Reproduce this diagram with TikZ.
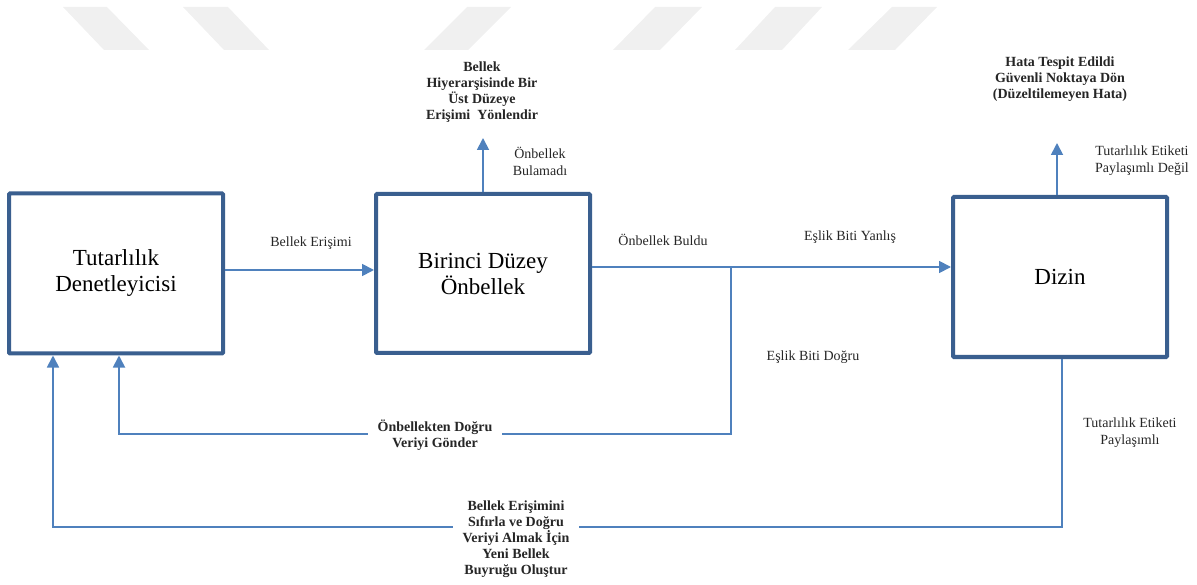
\documentclass[tikz,border=0pt]{standalone}
\usepackage{fontspec}
\setmainfont{Liberation Serif}
\usetikzlibrary{arrows.meta}
\definecolor{boxblue}{RGB}{58,95,143}
\definecolor{linkblue}{RGB}{79,129,189}
\definecolor{stripe}{RGB}{240,240,240}
\tikzset{
  block/.style={draw=boxblue, line width=4pt, rounded corners=1pt, fill=white,
    minimum width=214pt, minimum height=160pt, align=center,
    font=\fontsize{23}{26}\selectfont},
  link/.style={draw=linkblue, line width=1.8pt},
  arr/.style={link, -{Triangle[width=12pt,length=12pt]}},
  lbl/.style={align=center, font=\fontsize{14}{17}\selectfont, text=black!85},
  blbl/.style={align=center, font=\fontsize{14}{16}\selectfont\bfseries, text=black!85},
  gap/.style={blbl, fill=white, inner xsep=10pt, inner ysep=1pt},
  band/.style={fill=stripe, draw=none}
}
\begin{document}
\begin{tikzpicture}[x=1pt, y=-1pt]
\useasboundingbox (0,0) rectangle (1197,585);

% faint diagonal bands along the top edge
\fill[band] (63,7) -- (107,7) -- (149,50) -- (104,50) -- cycle;
\fill[band] (183,7) -- (228,7) -- (269,50) -- (224,50) -- cycle;
\fill[band] (467,7) -- (511,7) -- (468,50) -- (424,50) -- cycle;
\fill[band] (655,7) -- (702,7) -- (660,50) -- (613,50) -- cycle;
\fill[band] (775,7) -- (822,7) -- (782,50) -- (735,50) -- cycle;
\fill[band] (892,7) -- (937,7) -- (895,50) -- (848,50) -- cycle;

% main blocks
\node[block] (ctrl) at (116,273.5) {Tutarlılık\\Denetleyicisi};
\node[block, minimum height=159pt] (cache) at (483,273.5) {Birinci Düzey\\Önbellek};
\node[block] (dir) at (1060,277) {Dizin};

% free ends and bends of the connectors
\coordinate (upC) at (483,138);
\coordinate (upD) at (1057,143);
\coordinate (split) at (731,267);
\coordinate (splitLow) at (731,434);
\coordinate (retA) at (119,434);
\coordinate (dirLow) at (1062,527);
\coordinate (retB) at (53,527);

% connectors
\draw[arr] (ctrl.east |- 0,270) -- (cache.west |- 0,270);
\draw[arr] (cache.north) -- (upC);
\draw[arr] (cache.east |- split) -- (dir.west |- split);
\draw[arr] (dir.north -| upD) -- (upD);
\draw[arr] (split) -- (splitLow) -- (retA) -- (ctrl.south -| retA);
\draw[arr] (dir.south -| dirLow) -- (dirLow) -- (retB) -- (ctrl.south -| retB);

% labels
\node[lbl] (accessLbl) at (311,243) {Bellek Erişimi};
\node[lbl] (missLbl) at (540,161) {Önbellek\\Bulamadı};
\node[blbl] (missAct) at (482,92) {Bellek\\Hiyerarşisinde Bir\\Üst Düzeye\\Erişimi\ \ Yönlendir};
\node[lbl] (hitLbl) at (663,240) {Önbellek Buldu};
\node[lbl] (parWrong) at (850,237) {Eşlik Biti Yanlış};
\node[lbl] (parRight) at (813,357) {Eşlik Biti Doğru};
\node[gap] (sendLbl) at (435,435.5) {Önbellekten Doğru\\Veriyi Gönder};
\node[lbl] (notShared) at (1142,161) {Tutarlılık Etiketi\\Paylaşımlı Değil};
\node[blbl] (errAct) at (1060,79) {Hata Tespit Edildi\\Güvenli Noktaya Dön\\(Düzeltilemeyen Hata)};
\node[lbl] (shared) at (1130,433) {Tutarlılık Etiketi\\Paylaşımlı};
\node[gap] (retryLbl) at (516,539.5) {Bellek Erişimini\\Sıfırla ve Doğru\\Veriyi Almak İçin\\Yeni Bellek\\Buyruğu Oluştur};
\end{tikzpicture}
\end{document}
